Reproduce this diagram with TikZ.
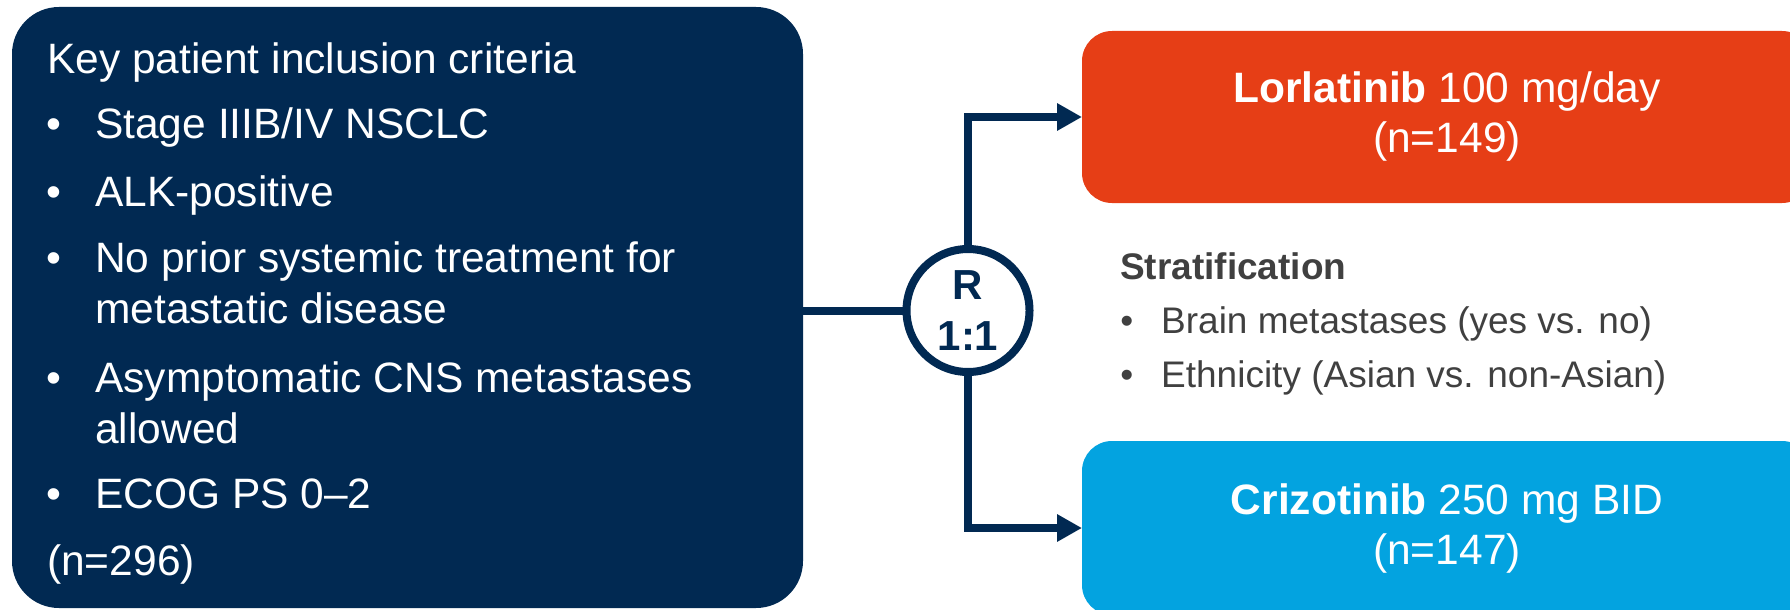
\documentclass[tikz,border=0pt]{standalone}
\usepackage{fontspec}
\setmainfont{Liberation Sans}
\usetikzlibrary{arrows.meta}

\definecolor{navy}{RGB}{1,41,82}
\definecolor{lorange}{RGB}{230,62,22}
\definecolor{cblue}{RGB}{3,163,224}
\definecolor{darktext}{RGB}{64,64,64}

% bullet hanging to the left of an item
\newcommand\itemdot[1]{\llap{\textbullet\hspace{#1}}}

\begin{document}
\begin{tikzpicture}[x=1pt,y=-1pt,
  panel/.style={rectangle, inner sep=0pt, outer sep=0pt},
  crittext/.style={font=\fontsize{42.5}{51}\selectfont, text=white, anchor=base west, inner sep=0pt},
  armtext/.style={font=\fontsize{42.5}{50}\selectfont, text=white, align=center, inner sep=0pt},
  stratext/.style={font=\fontsize{37}{54}\selectfont, text=darktext, anchor=base west, inner sep=0pt},
  conn/.style={draw=navy, line width=8pt},
  arrowconn/.style={conn, -{Triangle[length=25pt,width=26pt]}}]
\useasboundingbox (0,0) rectangle (1790,610);
\clip (0,0) rectangle (1790,610);

% inclusion criteria panel
\node[panel, fill=navy, rounded corners=47pt, minimum width=791pt, minimum height=601pt] (crit) at (407.5,307.5) {};
\node[crittext] (head) at (47,74) {Key patient inclusion criteria};
\node[crittext] (c1) at (95,138) {\itemdot{34pt}Stage IIIB/IV NSCLC};
\node[crittext] (c2) at (95,206) {\itemdot{34pt}ALK-positive};
\node[crittext] (c3) at (95,272) {\begin{tabular}[t]{@{}l@{}}\itemdot{34pt}No prior systemic treatment for\\metastatic disease\end{tabular}};
\node[crittext] (c4) at (95,392) {\begin{tabular}[t]{@{}l@{}}\itemdot{34pt}Asymptomatic CNS metastases\\allowed\end{tabular}};
\node[crittext] (c5) at (95,508) {\itemdot{34pt}ECOG PS 0–2};
\node[crittext] (ntot) at (47,575) {(n=296)};

% treatment arms
\node[panel, fill=lorange, rounded corners=30pt, minimum width=730pt, minimum height=172pt] (lor) at (1447,117) {};
\node[armtext] (lortext) at (lor.center) {\textbf{Lorlatinib} 100 mg/day\\(n=149)};
\node[panel, fill=cblue, rounded corners=30pt, minimum width=730pt, minimum height=174pt] (cri) at (1447,528) {};
\node[armtext] (critext) at (cri.center) {\textbf{Crizotinib} 250 mg BID\\(n=147)};

% stratification factors
\node[stratext, font=\fontsize{37}{54}\selectfont\bfseries] (strat) at (1120,279) {Stratification};
\node[stratext] (s1) at (1161,333) {\itemdot{28pt}Brain metastases (yes vs. no)};
\node[stratext] (s2) at (1161,387) {\itemdot{28pt}Ethnicity (Asian vs. non-Asian)};

% randomisation
\node[circle, draw=navy, fill=white, line width=8pt, minimum size=123pt, inner sep=0pt,
      font=\fontsize{42}{51}\selectfont\bfseries, text=navy, align=center] (R) at (968,310.5) {R\\1:1};

\draw[conn] (crit.east |- R.west) -- (R.west);
\draw[arrowconn] (R.north) |- (lor.west);
\draw[arrowconn] (R.south) |- (cri.west);
\end{tikzpicture}
\end{document}
